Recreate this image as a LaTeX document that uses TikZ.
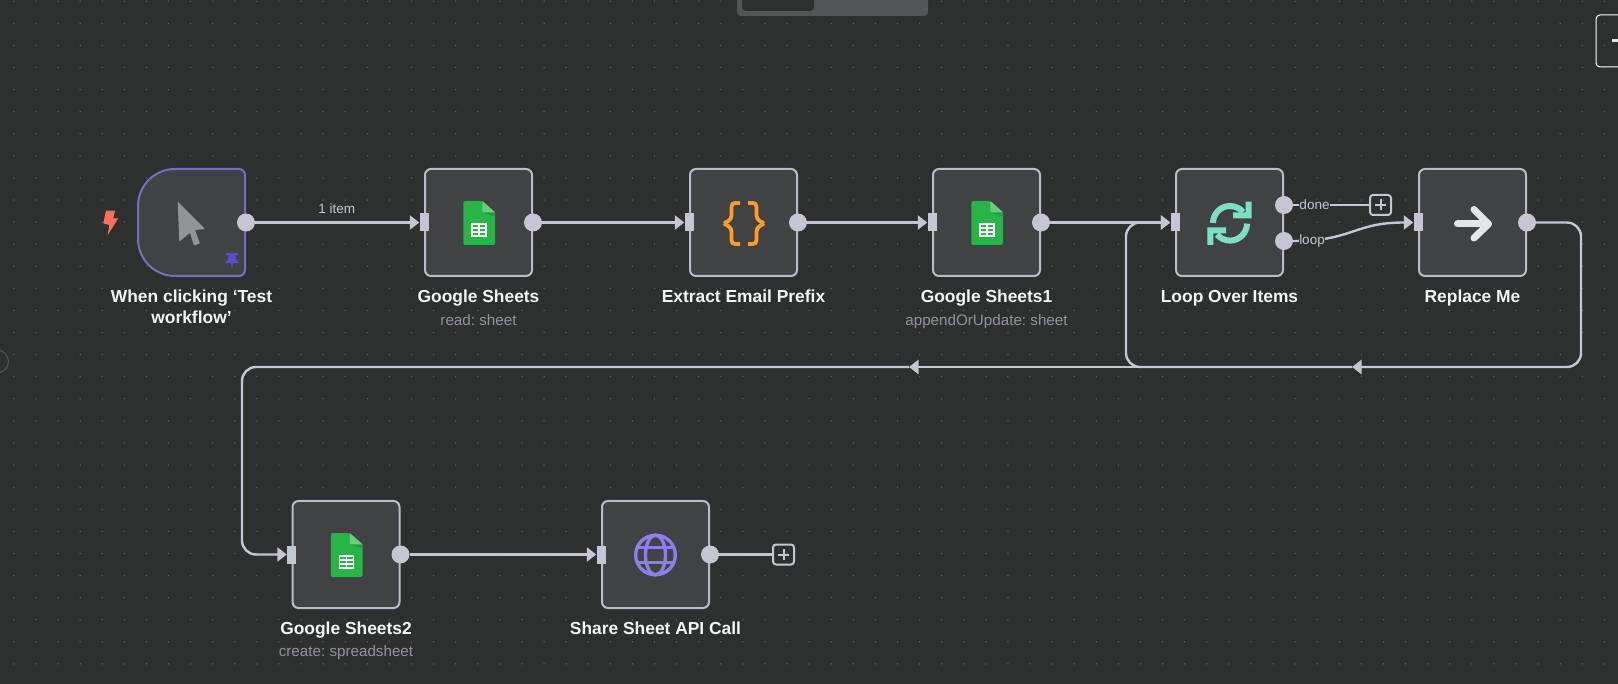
\documentclass[tikz,border=0pt]{standalone}
\usepackage{fontspec}
\setmainfont{Liberation Sans}
\usetikzlibrary{arrows.meta}
\definecolor{canvas}{HTML}{2E2F2F}
\definecolor{griddot}{HTML}{636465}
\definecolor{panel}{HTML}{545556}
\definecolor{boxfill}{HTML}{414244}
\definecolor{boxline}{HTML}{BABCC9}
\definecolor{wirecol}{HTML}{C3C6D3}
\definecolor{subtext}{HTML}{8E95A2}
\definecolor{titletext}{HTML}{F4F5F7}
\definecolor{triggerline}{HTML}{7A6BC4}
\definecolor{pincol}{HTML}{5B4FC9}
\definecolor{boltcol}{HTML}{FF6D5A}
\definecolor{cursorcol}{HTML}{929396}
\definecolor{sheetgreen}{HTML}{28B446}
\definecolor{sheetfold}{HTML}{6CCB7F}
\definecolor{sheetshade}{HTML}{249A3F}
\definecolor{bracecol}{HTML}{FF9B26}
\definecolor{loopcol}{HTML}{7FDFC6}
\definecolor{globecol}{HTML}{8B7FEB}
\definecolor{arrowcol}{HTML}{E4E5EA}

\tikzset{
  wfbox/.style={draw=boxline,fill=boxfill,line width=2pt,rounded corners=6pt,
    minimum width=107pt,minimum height=107pt,inner sep=0pt},
  inport/.style={fill=wirecol,minimum width=9pt,minimum height=18pt,inner sep=0pt},
  outport/.style={circle,fill=wirecol,minimum size=18pt,inner sep=0pt},
  wire/.style={draw=wirecol,line width=2.4pt,rounded corners=14pt},
  wiretip/.style={wire,-{Triangle[length=9.5pt,width=14pt]}},
  addbox/.style={draw=wirecol,line width=2pt,rounded corners=3pt,
    minimum width=21pt,minimum height=20pt,inner sep=0pt},
  wftitle/.style={anchor=base,text=titletext,align=center,inner sep=0pt,
    font=\fontsize{17.4}{21.5}\selectfont\bfseries},
  wfsub/.style={anchor=base,text=subtext,inner sep=0pt,
    font=\fontsize{15.2}{17}\selectfont\frenchspacing},
  wirelabel/.style={text=wirecol,fill=canvas,inner sep=0pt,
    font=\fontsize{13.5}{16}\selectfont},
  sheeticon/.pic={
    \fill[sheetgreen,rounded corners=2pt] (-15.2,-21.5) -- (3.8,-21.5) -- (16.5,-10.2)
      -- (16.5,22.5) -- (-15.2,22.5) -- cycle;
    \fill[sheetshade] (3.8,-10.2) -- (16.5,-10.2) -- (16.5,-6) -- cycle;
    \fill[sheetfold] (3.8,-21.5) -- (16.5,-10.2) -- (3.8,-10.2) -- cycle;
    \fill[white] (-7.5,0.8) rectangle (8.2,14.2);
    \foreach \cx in {-6,1} \foreach \cy in {2.3,6.3,10.3}
      \fill[sheetgreen] (\cx,\cy) rectangle ++(5.7,2.6);
  },
  plusicon/.pic={
    \draw[wirecol,line width=2pt] (-5.5,0) -- (5.5,0) (0,-5.5) -- (0,5.5);
  }
}

\begin{document}
\begin{tikzpicture}[x=1pt,y=-1pt]
  \path[use as bounding box,clip] (0,0) rectangle (1618,684);
  \fill[canvas] (0,0) rectangle (1618,684);

  % Dotted canvas grid.
  \foreach \i in {0,...,72} \foreach \j in {0,...,30}
    \fill[griddot] ({13.9+22.09*\i},{1.2+22.09*\j}) circle (0.75pt);

  % Cut-off controls at the window edges.
  \fill[panel,rounded corners=4pt] (737,-10) rectangle (928,16);
  \fill[canvas,rounded corners=4pt] (742,-10) rectangle (814,11);
  \draw[white,line width=1pt,rounded corners=4pt] (1596,15) rectangle (1640,67);
  \fill[arrowcol] (1612,39.5) rectangle (1618,42.5);
  \draw[panel,line width=1pt] (-3,361.5) circle (11.5pt);

  % Top row.
  \node[wfbox,draw=none,fill=none] (trigger) at (191.5,222.5) {};
  \draw[triggerline,fill=boxfill,line width=2pt] (175,169)
    arc[start angle=90,end angle=180,radius=37pt] -- (138,239)
    arc[start angle=180,end angle=270,radius=37pt] -- (239,276)
    arc[start angle=270,end angle=360,radius=6pt] -- (245,175)
    arc[start angle=0,end angle=90,radius=6pt] -- cycle;
  \node[wfbox] (read) at (478.5,222.5) {};
  \node[wfbox] (prefix) at (743.5,222.5) {};
  \node[wfbox] (append) at (986.5,222.5) {};
  \node[wfbox] (loop) at (1229.5,222.5) {};
  \node[wfbox] (replace) at (1472.5,222.5) {};

  % Bottom row.
  \node[wfbox] (create) at (346,554.5) {};
  \node[wfbox] (share) at (655.5,554.5) {};

  % Ports.
  \node[outport] (triggerout) at (trigger.east) {};
  \node[inport] (readin) at (read.west) {};
  \node[outport] (readout) at (read.east) {};
  \node[inport] (prefixin) at (prefix.west) {};
  \node[outport] (prefixout) at (prefix.east) {};
  \node[inport] (appendin) at (append.west) {};
  \node[outport] (appendout) at (append.east) {};
  \node[inport] (loopin) at (loop.west) {};
  \node[outport] (doneout) at (1284,205) {};
  \node[outport] (loopout) at (1284,241) {};
  \node[inport] (replacein) at (replace.west) {};
  \node[outport] (replaceout) at (replace.east) {};
  \node[inport] (createin) at (create.west) {};
  \node[outport] (createout) at (create.east) {};
  \node[inport] (sharein) at (share.west) {};
  \node[outport] (shareout) at (share.east) {};
  \node[addbox] (doneadd) at (1380.5,205) {};
  \node[addbox] (shareadd) at (783.5,554.5) {};
  \pic at (doneadd.center) {plusicon};
  \pic at (shareadd.center) {plusicon};

  % Connectors.
  \draw[wiretip] (triggerout) -- (readin);
  \draw[wiretip] (readout) -- (prefixin);
  \draw[wiretip] (prefixout) -- (appendin);
  \draw[wiretip] (appendout) -- (loopin);
  \draw[wiretip] (createout) -- (sharein);
  \draw[wire] (shareout) -- (shareadd);
  \draw[wire] (doneout) -- (doneadd);
  \draw[wiretip] (loopout.east) .. controls +(60,0) and +(-60,0) .. (replacein.west);
  \coordinate (backtipa) at (1352,367);
  \coordinate (backtipb) at (909,367);
  \draw[wiretip] (replaceout.east) -- (1581,222.5) -- (1581,367) -- (backtipa);
  \draw[wiretip] (backtipa) -- (1126,367) -- (1126,222.5) -- (loopin.west);
  \draw[wiretip] (backtipa) -- (backtipb);
  \draw[wiretip] (backtipb) -- (242,367) -- (242,554.5) -- (createin.west);

  \node[wirelabel] (donelabel) at (1314.5,205) {done};
  \node[wirelabel] (looplabel) at (1312,241) {loop};
  \node[text=wirecol,font=\fontsize{13.5}{16}\selectfont] (itemlabel) at (336.7,209) {1 item};

  % Trigger icons.
  \fill[boltcol] (106,210.7) -- (115,210.7) -- (113.3,218.3) -- (118.3,218.3)
    -- (107.7,235) -- (109.3,225) -- (103.3,223.3) -- cycle;
  \fill[cursorcol,rounded corners=0.8pt] (177.7,201.7) -- (205,229) -- (195,230) -- (200,243.3)
    -- (194,245.7) -- (190,232.7) -- (179.3,241.7) -- cycle;
  \fill[pincol] (226,253) -- (238,253) -- (238,255.5) -- (235.5,255.5) -- (236,259)
    -- (239,263) -- (233,263) -- (232,269.5) -- (231,263) -- (225,263) -- (228,259)
    -- (228.5,255.5) -- (226,255.5) -- cycle;

  % Node icons.
  \pic at (read.center) {sheeticon};
  \pic at (append.center) {sheeticon};
  \pic at (create.center) {sheeticon};

  \draw[bracecol,line width=3.8pt,rounded corners=3.5pt] (740,203) -- (731.5,203)
    -- (731.5,219) -- (724,223.5);
  \draw[bracecol,line width=3.8pt,rounded corners=3.5pt] (724,223.5) -- (731.5,228)
    -- (731.5,244) -- (740,244);
  \draw[bracecol,line width=3.8pt,rounded corners=3.5pt] (748,203) -- (756.5,203)
    -- (756.5,219) -- (764,223.5);
  \draw[bracecol,line width=3.8pt,rounded corners=3.5pt] (764,223.5) -- (756.5,228)
    -- (756.5,244) -- (748,244);

  \draw[loopcol,line width=6pt] (1213,223) arc[start angle=180,end angle=40,radius=17pt];
  \fill[loopcol] (1251.7,201.7) -- (1251.7,218.5) -- (1233,218.5) -- (1233,212.5)
    -- (1245.7,212.5) -- (1245.7,201.7) -- cycle;
  \draw[loopcol,line width=6pt] (1247,223.6) arc[start angle=0,end angle=-140,radius=17pt];
  \fill[loopcol] (1207.3,245) -- (1207.3,227.5) -- (1226,227.5) -- (1226,233.5)
    -- (1213.3,233.5) -- (1213.3,245) -- cycle;

  \draw[arrowcol,line width=7pt,line cap=round] (1457.5,224) -- (1488,224);
  \draw[arrowcol,line width=7pt,line cap=round,line join=round] (1474,209.5) -- (1488.5,224) -- (1474,238);

  \draw[globecol,line width=3.4pt] (655.5,555) circle (19.8pt);
  \draw[globecol,line width=3.4pt] (655.5,555) ellipse (10pt and 19.8pt);
  \draw[globecol,line width=3.2pt] (637.5,547.5) -- (673.5,547.5) (637.5,562.5) -- (673.5,562.5);

  % Labels.
  \node[wftitle] (triggertitle) at (191.5,324) {When clicking ‘Test\\workflow’};
  \node[wftitle] (readtitle) at (478.5,302.5) {Google Sheets};
  \node[wfsub] (readsub) at (478.5,326) {read: sheet};
  \node[wftitle] (prefixtitle) at (743.5,302.5) {Extract Email Prefix};
  \node[wftitle] (appendtitle) at (986.5,302.5) {Google Sheets1};
  \node[wfsub] (appendsub) at (986.5,326) {appendOrUpdate: sheet};
  \node[wftitle] (looptitle) at (1229.5,302.5) {Loop Over Items};
  \node[wftitle] (replacetitle) at (1472.5,302.5) {Replace Me};
  \node[wftitle] (createtitle) at (346,634) {Google Sheets2};
  \node[wfsub] (createsub) at (346,656.5) {create: spreadsheet};
  \node[wftitle] (sharetitle) at (655.5,634) {Share Sheet API Call};
\end{tikzpicture}
\end{document}
